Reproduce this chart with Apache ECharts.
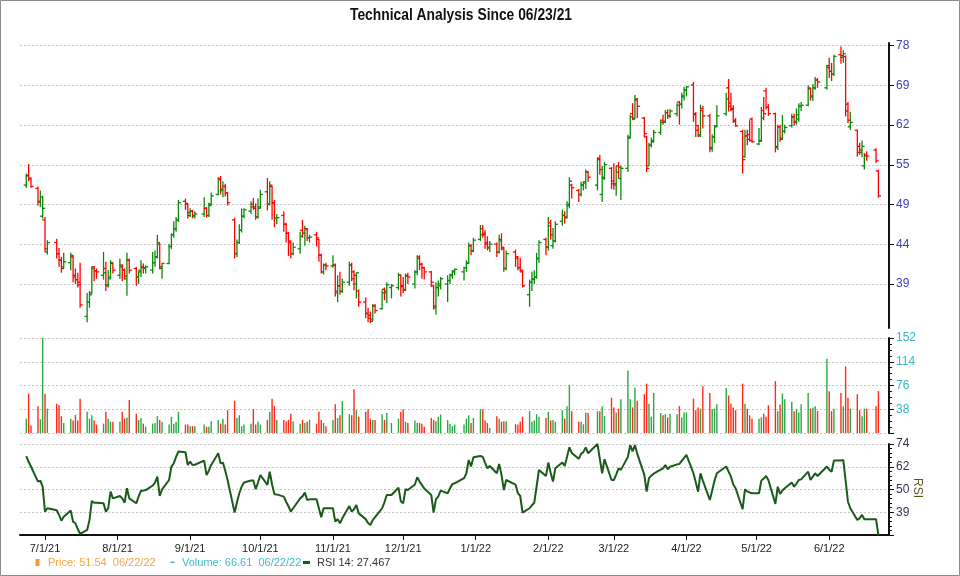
<!DOCTYPE html>
<html><head><meta charset="utf-8">
<script src="https://cdn.jsdelivr.net/npm/echarts@6/dist/echarts.min.js"></script>
<style>html,body{margin:0;padding:0;background:#fff}#c{width:960px;height:576px}</style>
</head><body><div id="c"></div>
<script>
const chartTitle = 'Technical Analysis Since 06/23/21';
const holidays = ['2021-07-05','2021-09-06','2021-11-25','2021-12-24','2022-01-17','2022-02-21','2022-04-15','2022-05-30','2022-06-20'];
const firstDay = [2021, 5, 23], lastDay = [2022, 5, 22];
const monthTicks = ['2021-07-01','2021-08-01','2021-09-01','2021-10-01','2021-11-01','2021-12-01','2022-01-01','2022-02-01','2022-03-01','2022-04-01','2022-05-01','2022-06-01'];
const legendPrice = 'Price: 51.54  06/22/22';
const legendVolume = 'Volume: 66.61  06/22/22';
const legendRsi = 'RSI 14: 27.467';

// Jun-21 .. Jun-22, one row per month
const opens = [
 52.0,53.5,53.0,51.5,49.6,47.5,
 47.0,42.8,44.0,42.6,41.8,41.0,41.5,42.2,40.0,39.5,39.2,35.5,37.0,38.0,41.0,40.5,40.0,40.8,38.9,39.8,41.4,
 40.0,41.2,40.6,39.6,41.8,40.8,39.8,40.6,41.0,40.8,40.6,41.5,42.2,43.8,40.8,41.4,43.5,45.0,45.8,47.0,49.6,49.2,
 48.0,48.2,47.5,47.8,48.6,47.6,49.2,50.6,53.0,51.2,51.8,50.8,47.0,42.6,44.0,45.6,47.5,48.2,49.2,48.6,47.4,
 48.8,51.0,49.2,51.8,49.4,47.2,47.6,46.4,45.2,44.0,42.6,43.2,45.6,45.2,45.8,44.6,45.0,44.4,42.4,40.4,41.2,
 41.1,41.2,38.0,38.8,38.2,39.2,41.2,40.4,39.0,38.2,37.0,35.8,35.6,35.2,36.6,36.3,38.4,38.0,38.6,38.6,40.0,
 38.8,38.4,40.0,39.0,40.4,42.2,41.3,40.9,40.4,38.8,36.4,38.6,38.8,39.0,39.4,40.0,40.4,40.4,40.9,41.5,43.6,43.0,
 44.4,45.8,45.2,43.8,43.4,43.8,42.8,44.4,43.2,40.8,42.8,42.0,40.9,40.4,37.8,39.2,39.6,39.8,42.0,44.4,
 43.4,46.6,43.6,44.2,46.8,47.6,47.4,49.0,52.0,51.2,50.6,52.0,52.3,54.0,52.0,56.2,50.6,53.2,54.6,
 52.6,52.0,55.0,53.0,54.6,59.8,64.0,63.2,66.6,63.2,59.8,55.0,58.4,59.0,60.6,62.8,62.4,64.2,63.6,64.0,66.2,65.8,67.2,
 68.6,69.6,63.8,61.0,60.2,64.6,63.6,57.8,59.8,61.8,64.0,69.0,66.0,65.0,62.8,60.8,56.5,60.0,60.2,63.0,
 58.6,59.2,64.6,68.4,65.2,64.0,58.2,61.6,59.4,60.8,61.8,63.4,62.6,63.0,65.4,65.6,68.8,67.2,69.0,70.6,69.0,
 73.6,72.4,71.8,76.0,75.4,75.6,65.8,61.6,61.0,58.2,57.2,55.0,56.8,57.6,54.2
];
const highs = [
 53.8,55.3,53.2,51.8,51.2,50.4,
 47.4,44.3,44.5,43.3,42.2,42.7,42.7,42.4,40.8,40.3,41.5,38.0,38.2,41.0,41.1,40.8,42.8,41.6,40.6,41.8,41.5,
 42.0,41.3,40.8,42.7,42.0,41.0,40.5,41.8,41.4,41.2,42.8,43.0,45.0,43.9,41.5,43.8,45.2,46.8,47.4,49.8,50.0,49.3,
 48.6,48.4,48.2,50.2,48.8,49.4,50.9,53.2,53.4,52.6,52.2,51.0,47.3,44.4,46.4,48.6,48.6,49.6,50.1,49.3,50.0,
 51.3,53.1,52.6,51.9,49.8,47.8,48.2,46.6,45.4,44.2,44.0,45.4,47.0,46.2,45.9,45.0,45.4,44.5,42.6,41.4,41.5,
 42.4,41.4,40.0,40.4,39.6,41.6,41.5,40.6,40.3,38.4,37.5,36.4,36.0,36.8,36.8,38.3,38.6,39.2,39.0,40.3,40.1,
 39.8,40.2,40.3,40.6,42.4,42.4,41.5,41.0,40.5,38.9,39.2,39.4,39.8,40.0,40.2,40.6,40.8,41.0,41.8,44.0,43.8,44.6,
 46.3,46.3,45.6,44.8,44.2,44.0,45.0,45.2,43.4,43.0,43.1,42.3,42.1,40.6,39.5,40.4,40.6,42.7,44.3,44.6,
 47.4,47.0,45.9,46.8,48.4,48.2,49.6,53.2,52.2,51.4,52.5,52.6,54.4,54.2,56.4,56.8,55.0,55.6,54.8,
 55.4,55.0,55.6,55.0,60.2,63.8,66.0,67.6,67.0,63.4,60.0,58.8,59.7,61.1,62.9,63.8,64.7,64.8,64.9,66.0,66.4,68.0,69.2,
 69.4,70.2,64.3,62.0,65.7,65.5,64.0,60.3,61.8,65.6,68.0,70.8,68.0,65.6,63.2,61.1,61.1,61.1,62.8,63.3,
 61.4,65.3,67.2,69.0,65.8,64.2,62.0,62.0,63.8,62.0,64.0,64.0,65.0,66.0,66.2,69.5,69.0,69.8,71.2,71.0,73.8,
 75.3,74.2,76.0,77.8,77.0,75.8,66.2,64.3,61.1,58.8,59.2,57.1,57.4,57.9,54.4
];
const lows = [
 51.6,52.6,51.6,49.0,48.8,47.2,
 42.8,42.5,42.0,41.0,40.3,40.8,40.6,39.2,39.0,38.6,36.4,34.9,36.4,37.9,39.3,39.6,39.5,38.2,38.6,39.6,40.2,
 39.6,39.3,39.5,37.7,40.2,38.8,39.0,39.8,40.2,40.2,40.2,41.0,42.0,40.7,39.6,41.3,43.2,44.6,45.4,46.7,48.4,47.2,
 47.4,47.2,47.2,47.4,47.3,47.4,49.0,50.5,50.6,50.2,50.3,49.0,42.0,42.2,43.8,45.3,47.2,47.8,48.4,47.0,47.2,
 48.6,48.3,49.0,47.0,46.0,46.4,45.4,44.0,42.3,42.0,42.4,42.6,44.6,43.6,44.2,44.0,43.5,41.6,40.2,40.1,40.6,
 40.9,37.6,37.0,37.8,38.0,38.8,39.3,38.3,37.4,36.5,35.3,34.9,34.8,35.0,35.8,36.2,37.2,36.9,37.4,38.3,37.6,
 38.0,38.2,39.0,38.5,40.0,40.6,39.6,39.5,38.7,36.2,35.7,37.6,38.4,37.0,39.0,39.6,40.0,39.4,40.4,41.4,42.4,42.8,
 44.2,44.6,43.2,43.0,42.8,42.2,42.6,43.0,40.4,40.6,41.0,40.6,40.4,38.6,36.5,38.2,39.0,39.6,41.5,42.4,
 43.0,44.4,43.2,44.0,46.2,46.5,47.2,48.6,50.0,49.5,50.3,51.2,51.4,52.5,51.2,53.6,49.5,52.8,51.4,
 51.3,50.4,53.0,49.8,54.0,59.6,62.8,63.0,63.2,59.8,54.0,55.0,58.0,58.8,60.2,62.0,62.3,63.0,63.2,63.5,62.0,65.0,66.5,
 67.3,62.5,59.8,59.8,59.8,61.3,57.2,57.3,58.8,61.6,63.6,64.4,64.5,62.3,61.6,53.8,56.3,58.4,59.0,58.8,
 58.4,59.0,62.8,64.8,63.6,57.2,57.6,59.0,59.3,60.4,61.5,61.8,62.0,62.5,64.5,65.4,66.5,66.4,68.6,69.0,68.6,
 71.0,70.4,71.4,74.0,74.2,63.5,62.3,61.1,56.5,56.8,56.4,54.4,55.8,55.5,50.1
];
const closes = [
 53.4,53.0,51.8,49.5,50.2,48.6,
 43.2,44.0,42.6,41.8,40.8,41.6,42.4,39.8,39.5,38.9,36.7,37.0,37.8,40.8,40.5,40.4,40.3,38.8,39.6,41.5,40.6,
 41.0,40.6,39.9,41.8,40.6,39.8,40.4,40.9,40.9,41.0,41.5,42.2,44.0,41.0,41.4,43.5,45.0,45.8,47.0,49.4,49.3,47.6,
 48.2,47.6,47.8,48.6,47.6,49.0,50.4,52.8,51.4,51.8,50.8,49.4,42.6,44.0,45.6,47.5,48.4,48.8,48.8,47.4,48.6,
 50.6,49.2,52.0,49.4,47.2,47.3,46.4,45.2,44.2,42.6,43.4,44.8,45.2,45.8,44.6,44.7,44.6,42.4,40.4,41.2,41.1,
 41.2,38.2,38.8,38.2,39.2,41.2,39.6,40.0,40.3,37.0,35.8,35.3,35.0,36.6,36.1,38.0,38.2,38.9,38.8,40.0,38.7,
 38.3,39.9,39.8,40.4,42.0,41.3,40.9,40.4,39.2,36.6,38.6,39.0,39.6,39.4,40.0,40.5,40.7,40.9,41.4,43.6,42.9,44.3,
 45.0,45.0,44.0,43.3,43.8,42.8,44.2,43.4,40.8,42.6,42.2,40.9,40.6,38.8,39.2,39.5,39.8,42.0,44.0,43.4,
 46.2,45.0,44.2,46.4,47.6,47.3,49.2,52.6,51.6,50.6,52.0,52.5,54.0,53.2,56.0,54.4,53.0,55.2,52.2,
 52.2,54.0,54.8,54.6,59.6,63.4,63.0,66.8,65.4,60.4,54.6,58.4,59.2,60.6,62.4,62.6,64.2,63.6,64.5,65.6,65.8,67.4,68.6,
 69.2,64.0,61.8,60.0,65.0,63.6,58.0,59.8,61.6,63.6,66.8,65.4,64.8,62.6,61.8,56.0,60.0,59.4,59.2,59.0,
 59.1,63.2,64.0,65.2,64.0,58.0,61.6,59.6,60.8,61.5,63.4,62.4,63.8,65.4,65.6,69.0,67.4,69.0,70.6,70.2,73.2,
 72.4,71.8,75.6,75.8,76.2,64.5,62.8,62.4,57.2,57.6,58.2,56.6,56.6,55.8,50.4
];
const volumes = [
 23,63,12,43,22,152,
 63,39,47,45,27,16,23,20,28.5,20,55,34,23,28.5,20,13.5,15,34,23,18,18,
 18,34,23,25,53,31,21,24,15,10,15,16,27,21,18,13.5,26,15,18,34,13.5,13.5,
 11,11,11,13.5,10,10,19,21,15,23,13.5,36.5,51.5,24,28.5,11,13.5,15,38,13.5,18,
 13.5,21,34,55,43,21,21,19,21,31,19,15,21,16,18,21,15,34,21,16,11,
 21,46,24,28.5,51,30,28.5,70,36.5,26,34,38,23,21,21,30,21,32,16,23,34,
 38,18,16,20,16,16,15,10,24,21,19,26,29.6,21,15,11,13.5,13.5,23,28.5,16,24,
 38,38,20,16,8,27,23,18,19,19,14,13.5,18,26,35,18,20,30,26,24,
 34,20,21,18,36.5,23,43,77,35,18,18,14,33,32,35,35,43,27,56.5,
 41,33,39,54,100,54,41,73,51.5,62,79,47,26,64,32,28.5,30,25,31,30,43,25,33,
 33,55,36.5,41,39,75,64,38.6,39,46,72,60,47,41,36.5,79,47,39,28.5,23,
 23,25,31,26,44.5,83,35,45.6,63,54,50,35,38.6,33,46,64,39,41,43,35,119,
 67,35,39,64,43,106.5,56.5,39,62,36.5,27,39,39,43,67
];
const rsi = [
 67.4,64.5,62.1,54.5,55.0,51.9,
 39.3,41.0,40.0,37.6,34.7,36.7,39.8,34.2,33.4,30.5,28.0,30.0,35.0,44.7,43.8,43.8,43.5,39.3,41.0,49.4,46.0,
 47.2,46.0,43.8,51.1,46.0,43.5,47.0,49.9,49.9,50.2,52.5,54.0,57.0,47.2,50.5,55.3,62.1,63.7,67.0,69.7,69.3,62.9,
 64.6,62.9,63.0,65.1,57.8,60.0,62.9,68.8,63.7,64.1,60.0,55.3,38.8,44.0,48.6,52.0,54.0,55.0,55.0,50.6,54.0,
 57.8,52.8,59.5,53.0,48.1,48.0,46.9,44.3,42.0,39.3,41.0,46.0,47.0,48.9,45.2,45.5,45.5,41.0,36.4,41.0,41.0,
 41.0,34.2,35.5,33.4,35.9,42.1,39.3,40.5,42.6,38.4,35.5,33.5,32.5,35.0,36.5,41.0,44.0,47.7,47.7,51.4,44.5,
 43.5,50.6,50.2,53.0,56.7,54.5,52.8,51.0,47.7,38.8,45.5,47.0,49.9,48.6,51.0,53.3,53.6,56.2,58.7,65.4,62.1,66.8,
 67.4,67.0,64.0,61.2,62.4,58.7,63.4,58.0,50.2,55.3,53.0,48.6,47.2,38.8,41.0,42.5,43.8,52.0,60.4,57.3,
 64.1,59.0,54.5,61.2,64.1,62.4,67.0,71.8,69.0,66.0,68.5,69.5,71.8,68.8,73.5,66.0,58.7,65.8,55.3,
 55.3,58.0,61.2,60.4,67.0,73.0,69.7,73.0,68.5,58.0,49.4,56.2,57.5,58.5,60.5,61.2,62.9,60.7,62.0,63.2,63.4,65.0,66.5,
 68.0,58.7,54.0,49.4,58.7,55.0,45.2,50.0,55.0,58.7,62.1,59.5,57.0,53.0,51.1,40.5,50.6,49.5,49.0,48.6,
 48.6,55.0,56.0,57.3,55.3,43.2,51.9,48.2,50.0,51.1,54.0,51.9,53.5,55.3,55.6,59.5,55.3,57.0,58.7,57.3,62.1,
 60.5,59.5,65.1,65.2,65.4,55.0,44.3,41.0,35.0,36.0,37.6,35.4,35.4,35.4,27.467
];

// ---- trading days (weekdays minus exchange holidays) ----
const DAY = 86400000;
function tradingDays() {
  const out = [];
  let d = Date.UTC(firstDay[0], firstDay[1], firstDay[2]);
  const end = Date.UTC(lastDay[0], lastDay[1], lastDay[2]);
  while (d <= end) {
    const dt = new Date(d), wd = dt.getUTCDay(), s = dt.toISOString().slice(0, 10);
    if (wd !== 0 && wd !== 6 && holidays.indexOf(s) < 0) out.push(d);
    d += DAY;
  }
  return out;
}
const days = tradingDays();
const n = Math.min(days.length, closes.length);

// ---- axis geometry ----
const july1 = Date.UTC(2021, 6, 1);
const pxPerDay = 2.341;
const gridLeft = 20, gridWidth = 869;
const xMin = july1 - (45 - gridLeft) / pxPerDay * DAY;
const xMax = xMin + gridWidth / pxPerDay * DAY;
const monthTs = monthTicks.map(s => Date.parse(s + 'T00:00:00Z'));

// price plotted on a log scale: 6 gridlines per doubling from 39
const priceBase = 39, stepsPerDouble = 6;
const lp = p => stepsPerDouble * Math.log2(p / priceBase);
const uMin = -1.108, uMax = 6.068;

const rsiMin = Math.min.apply(null, rsi), rsiMax = Math.max.apply(null, rsi);
const rsiStep = (rsiMax - rsiMin) / 4;
const rn = r => (r - rsiMin) / rsiStep;

const GREEN = '#088a08', RED = '#ff0000';
const VGREEN = '#2aa845', VRED = '#ff2a1a';

const ohlcData = [], volData = [], rsiData = [];
for (let i = 0; i < n; i++) {
  const up = closes[i] >= opens[i] ? 1 : 0;
  ohlcData.push([days[i], lp(opens[i]), lp(highs[i]), lp(lows[i]), lp(closes[i]), up]);
  volData.push([days[i], volumes[i], up]);
  rsiData.push([days[i], rn(rsi[i])]);
}

const fmtDate = v => { const d = new Date(v); return (d.getUTCMonth() + 1) + '/' + d.getUTCDate() + '/' + String(d.getUTCFullYear()).slice(2); };

const hiddenX = (gi) => ({ gridIndex: gi, type: 'value', min: xMin, max: xMax, show: false,
  axisLine: { show: false }, axisTick: { show: false }, axisLabel: { show: false }, splitLine: { show: false } });

const axisFont = 'Liberation Sans, Arial, sans-serif';
const grid = [
  { left: gridLeft, width: gridWidth, top: 43, height: 285 },
  { left: gridLeft, width: gridWidth, top: 338, height: 95 },
  { left: gridLeft, width: gridWidth, top: 444, height: 91 }
];
const split = { show: true, lineStyle: { color: '#c4c4c4', type: [2, 2], width: 1 } };
const rightLine = { show: true, onZero: false, lineStyle: { color: '#111', width: 2 } };

const option = {
  animation: false,
  backgroundColor: '#fff',
  grid: grid,
  xAxis: [
    hiddenX(0), hiddenX(1),
    { gridIndex: 2, type: 'value', min: xMin, max: xMax,
      axisLine: { show: true, onZero: false, lineStyle: { color: '#111', width: 2 } },
      axisTick: { show: true, customValues: monthTs, length: 5, lineStyle: { color: '#111' } },
      axisLabel: { show: true, customValues: monthTs, formatter: fmtDate, color: '#222', fontSize: 11, fontFamily: axisFont, margin: 8 },
      splitLine: { show: false } }
  ],
  yAxis: [
    { gridIndex: 0, type: 'value', position: 'right', min: uMin, max: uMax,
      axisLine: rightLine,
      axisTick: { show: true, customValues: [0, 1, 2, 3, 4, 5, 6], length: 5, lineStyle: { color: '#111' } },
      axisLabel: { show: true, customValues: [0, 1, 2, 3, 4, 5, 6], formatter: v => String(Math.round(priceBase * Math.pow(2, v / stepsPerDouble))), color: '#3b3bc4', fontSize: 12, fontFamily: axisFont, margin: 7 },
      splitLine: split },
    { gridIndex: 1, type: 'value', position: 'right', min: 0, max: 152, interval: 38,
      axisLine: rightLine,
      axisTick: { show: true, length: 5, lineStyle: { color: '#111' } },
      minorTick: { show: true, splitNumber: 4, length: 3, lineStyle: { color: '#111' } },
      axisLabel: { show: true, formatter: v => v === 0 ? '' : String(v), color: '#33b8c4', fontSize: 12, fontFamily: axisFont, margin: 7 },
      splitLine: split },
    { gridIndex: 2, type: 'value', position: 'right', min: 0, max: 4, interval: 1,
      axisLine: rightLine,
      axisTick: { show: true, length: 5, lineStyle: { color: '#111' } },
      minorTick: { show: true, splitNumber: 5, length: 3, lineStyle: { color: '#111' } },
      axisLabel: { show: true, formatter: v => v === 0 ? '' : String(Math.round(rsiMin + v * rsiStep + 1e-6)), color: '#333355', fontSize: 12, fontFamily: axisFont, margin: 7 },
      splitLine: split }
  ],
  series: [
    { type: 'custom', xAxisIndex: 0, yAxisIndex: 0, data: ohlcData, encode: { x: 0, y: [1, 2, 3, 4] },
      renderItem: function (params, api) {
        const t = api.value(0);
        const h = api.coord([t, api.value(2)]), l = api.coord([t, api.value(3)]);
        const o = api.coord([t, api.value(1)]), c = api.coord([t, api.value(4)]);
        const col = api.value(5) ? GREEN : RED;
        const x = h[0];
        const st = { stroke: col, lineWidth: 1.3 };
        return { type: 'group', children: [
          { type: 'line', shape: { x1: x, y1: h[1], x2: x, y2: l[1] }, style: st },
          { type: 'line', shape: { x1: x - 2.6, y1: o[1], x2: x, y2: o[1] }, style: st },
          { type: 'line', shape: { x1: x, y1: c[1], x2: x + 2.6, y2: c[1] }, style: st }
        ] };
      } },
    { type: 'custom', xAxisIndex: 1, yAxisIndex: 1, data: volData, encode: { x: 0, y: 1 },
      renderItem: function (params, api) {
        const t = api.value(0);
        const top = api.coord([t, api.value(1)]), base = api.coord([t, 0]);
        return { type: 'rect', shape: { x: top[0] - 0.7, y: top[1], width: 1.4, height: base[1] - top[1] },
          style: { fill: api.value(2) ? VGREEN : VRED } };
      } },
    { type: 'line', xAxisIndex: 2, yAxisIndex: 2, data: rsiData, showSymbol: false, symbol: 'none',
      lineStyle: { color: '#1b5a1b', width: 2 } }
  ],
  graphic: [
    { type: 'rect', shape: { x: 0.5, y: 0.5, width: 959, height: 575 }, style: { fill: 'none', stroke: '#8a8a8a', lineWidth: 1 }, silent: true },
    { type: 'text', x: 461, y: 16, scaleX: 0.865, style: { text: chartTitle, font: 'bold 16px "Liberation Sans", Arial, sans-serif', fill: '#111', textAlign: 'center', textVerticalAlign: 'middle' } },
    { type: 'text', x: 917, y: 488, rotation: -Math.PI / 2, style: { text: 'RSI', font: '12px "Liberation Sans", Arial, sans-serif', fill: '#5a5a22', textAlign: 'center', textVerticalAlign: 'middle' } },
    { type: 'rect', shape: { x: 35.5, y: 559, width: 4, height: 7 }, style: { fill: '#f59a2e' } },
    { type: 'text', x: 48, y: 563, style: { text: legendPrice, font: '11px "Liberation Sans", Arial, sans-serif', fill: '#f5a64a', textVerticalAlign: 'middle' } },
    { type: 'rect', shape: { x: 170.5, y: 561.5, width: 4, height: 1.5 }, style: { fill: '#3cbccc' } },
    { type: 'text', x: 182, y: 563, style: { text: legendVolume, font: '11px "Liberation Sans", Arial, sans-serif', fill: '#3cbccc', textVerticalAlign: 'middle' } },
    { type: 'rect', shape: { x: 303, y: 561, width: 7, height: 3 }, style: { fill: '#1b5a1b' } },
    { type: 'text', x: 317, y: 563, style: { text: legendRsi, font: '11px "Liberation Sans", Arial, sans-serif', fill: '#333', textVerticalAlign: 'middle' } }
  ]
};
const chart = echarts.init(document.getElementById('c'), null, { renderer: 'canvas' });
chart.setOption(option);
</script></body></html>
